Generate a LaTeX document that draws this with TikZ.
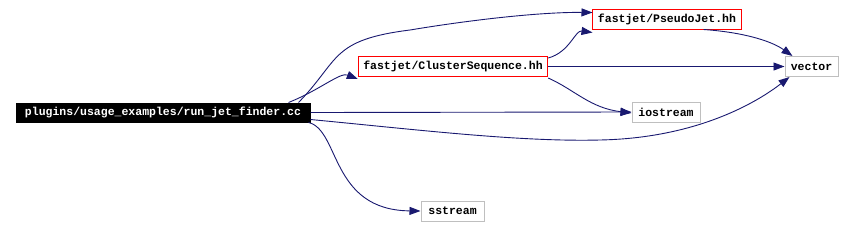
\documentclass[tikz,border=0pt]{standalone}
\usepackage{fontspec}
\setmonofont{Liberation Mono}
\usetikzlibrary{arrows.meta}

\definecolor{edgeblue}{HTML}{191970}
\definecolor{boxgray}{HTML}{BFBFBF}

\tikzset{
  file/.style={draw=boxgray, fill=white, text=black, line width=1pt, minimum height=20pt, inner xsep=5pt, inner ysep=0pt},
  mainfile/.style={file, draw=black, fill=black, text=white, minimum height=19pt},
  hdrfile/.style={file, draw=red},
  dep/.style={draw=edgeblue, line width=0.9pt, -{Triangle[length=11pt,width=8pt]}}
}

\begin{document}
\begin{tikzpicture}[x=1pt, y=-1pt, font=\fontsize{11.5}{12}\ttfamily\bfseries]
	\useasboundingbox (0,0) rectangle (854,225);
	\node[mainfile, minimum width=294pt] (run) at (163,112.5) {plugins/usage\_examples/run\_jet\_finder.cc};
	\node[hdrfile, minimum width=186pt] (cs) at (453,66.5) {fastjet/ClusterSequence.hh};
	\node[hdrfile, minimum width=142pt] (pj) at (667,19) {fastjet/PseudoJet.hh};
	\node[file, minimum width=53pt] (vec) at (811.5,66.5) {vector};
	\node[file, minimum width=68pt] (ios) at (666,112) {iostream};
	\node[file, minimum width=63pt] (sst) at (452.5,211) {sstream};
	% edges out of the main file
	\draw[dep] ([xshift=-22pt]run.north east) .. controls (320,90) and (340,72) .. ([yshift=-2pt]cs.south west);
	\draw[dep] ([xshift=-12pt]run.north east) .. controls (340,60) and (330,40) .. (410,30) .. controls (470,20) and (540,12) .. ([yshift=-4pt]pj.north west);
	\draw[dep] (run.east) -- (ios.west);
	\draw[dep] ([yshift=-7pt]run.east) .. controls (420,130) and (520,142) .. (600,140) .. controls (700,138) and (760,100) .. ([xshift=5pt]vec.south west);
	\draw[dep] ([xshift=-2pt]run.south east) .. controls (340,130) and (330,210) .. (sst.west);
	% edges out of ClusterSequence.hh
	\draw[dep] ([yshift=-2pt]cs.north east) .. controls (570,52) and (575,30) .. ([yshift=-3pt]pj.south west);
	\draw[dep] (cs.east) -- (vec.west);
	\draw[dep] ([yshift=-1pt]cs.south east) .. controls (575,90) and (590,108) .. ([yshift=-1pt]ios.west);
	% edge out of PseudoJet.hh
	\draw[dep] ([xshift=-38pt]pj.south east) .. controls (740,32) and (770,40) .. ([xshift=8pt]vec.north west);
\end{tikzpicture}
\end{document}
